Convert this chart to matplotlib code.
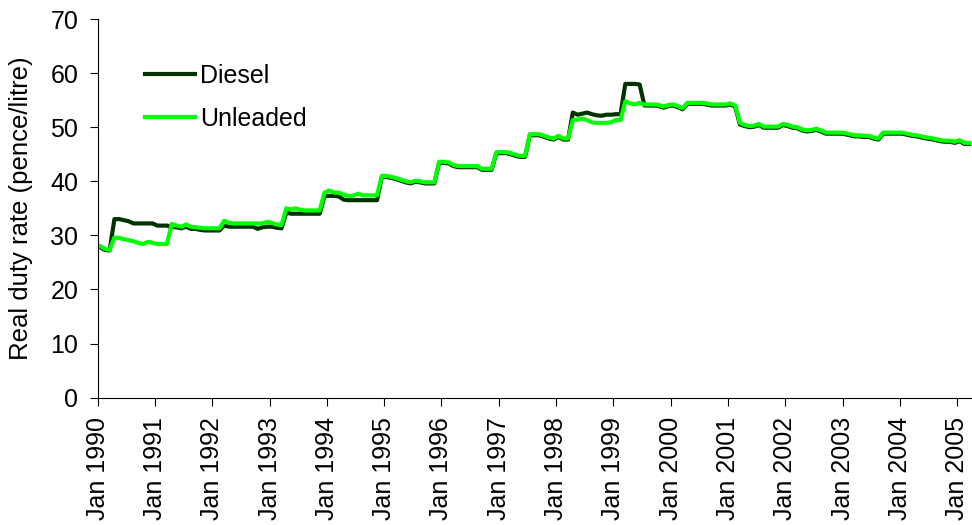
import numpy as np
import matplotlib
matplotlib.use("Agg")
import matplotlib.pyplot as plt

plt.rcParams['font.family'] = ['Liberation Sans', 'DejaVu Sans']

# monthly real duty rates, Jan 1990 .. Mar 2005 (pence/litre)
diesel = [
    27.8, 27.3, 27.2, 33.0, 33.0, 32.8, 32.6, 32.2, 32.2, 32.2, 32.2, 32.2,  # 1990
    31.8, 31.8, 31.8, 31.5, 31.5, 31.3, 31.6, 31.2, 31.2, 31.0, 30.9, 30.9,  # 1991
    30.9, 30.9, 31.8, 31.6, 31.6, 31.6, 31.6, 31.6, 31.6, 31.2, 31.5, 31.6,  # 1992
    31.6, 31.4, 31.3, 34.2, 34.0, 34.0, 34.0, 34.0, 34.0, 34.0, 34.0, 37.3,  # 1993
    37.3, 37.3, 37.2, 36.6, 36.5, 36.5, 36.5, 36.5, 36.5, 36.5, 36.5, 40.8,  # 1994
    40.8, 40.6, 40.4, 40.1, 39.8, 39.6, 39.9, 39.8, 39.6, 39.6, 39.6, 43.4,  # 1995
    43.4, 43.3, 42.8, 42.6, 42.6, 42.6, 42.6, 42.6, 42.1, 42.1, 42.1, 45.2,  # 1996
    45.2, 45.2, 45.0, 44.7, 44.5, 44.5, 48.5, 48.5, 48.5, 48.2, 47.9, 47.7,  # 1997
    48.2, 47.7, 47.7, 52.7, 52.3, 52.5, 52.7, 52.4, 52.2, 52.1, 52.3, 52.3,  # 1998
    52.4, 52.4, 58.0, 58.0, 58.0, 57.9, 54.0, 54.0, 54.0, 53.9, 53.6, 53.9,  # 1999
    54.0, 53.7, 53.3, 54.3, 54.3, 54.3, 54.3, 54.2, 54.0, 54.0, 54.0, 54.0,  # 2000
    54.2, 53.8, 50.5, 50.2, 50.0, 50.1, 50.4, 49.9, 49.9, 49.9, 49.9, 50.4,  # 2001
    50.2, 49.9, 49.8, 49.4, 49.2, 49.3, 49.5, 49.2, 48.8, 48.8, 48.8, 48.8,  # 2002
    48.7, 48.5, 48.3, 48.3, 48.2, 48.2, 47.9, 47.7, 48.8, 48.8, 48.8, 48.8,  # 2003
    48.8, 48.6, 48.4, 48.3, 48.1, 47.9, 47.8, 47.6, 47.4, 47.3, 47.3, 47.1,  # 2004
    47.4, 46.9, 46.9,                                                        # 2005
]

unleaded = [
    28.0, 27.5, 27.3, 29.6, 29.5, 29.3, 29.1, 28.9, 28.6, 28.4, 28.8, 28.6,  # 1990
    28.4, 28.4, 28.4, 32.1, 31.8, 31.6, 32.0, 31.6, 31.5, 31.4, 31.3, 31.3,  # 1991
    31.3, 31.3, 32.7, 32.3, 32.2, 32.2, 32.2, 32.2, 32.2, 32.2, 32.2, 32.5,  # 1992
    32.3, 32.0, 31.9, 35.0, 34.8, 35.0, 34.7, 34.6, 34.6, 34.6, 34.6, 37.9,  # 1993
    38.3, 37.9, 37.9, 37.5, 37.3, 37.3, 37.7, 37.4, 37.4, 37.4, 37.4, 41.0,  # 1994
    41.0, 40.8, 40.6, 40.3, 40.0, 39.8, 40.1, 40.0, 39.8, 39.8, 39.8, 43.6,  # 1995
    43.6, 43.5, 43.0, 42.8, 42.8, 42.8, 42.8, 42.8, 42.3, 42.3, 42.3, 45.4,  # 1996
    45.4, 45.4, 45.2, 44.9, 44.7, 44.7, 48.7, 48.7, 48.7, 48.4, 48.1, 47.9,  # 1997
    48.4, 47.9, 47.9, 51.3, 51.4, 51.6, 51.3, 50.9, 50.8, 50.8, 50.8, 50.9,  # 1998
    51.3, 51.3, 54.8, 54.4, 54.2, 54.5, 54.2, 54.2, 54.2, 54.1, 53.8, 54.1,  # 1999
    54.2, 53.9, 53.5, 54.5, 54.5, 54.5, 54.5, 54.4, 54.2, 54.2, 54.2, 54.2,  # 2000
    54.4, 54.0, 50.8, 50.4, 50.2, 50.3, 50.6, 50.1, 50.1, 50.1, 50.1, 50.6,  # 2001
    50.4, 50.1, 50.0, 49.6, 49.4, 49.5, 49.7, 49.4, 49.0, 49.0, 49.0, 49.0,  # 2002
    48.9, 48.7, 48.5, 48.5, 48.4, 48.4, 48.1, 47.9, 49.0, 49.0, 49.0, 49.0,  # 2003
    49.0, 48.8, 48.6, 48.5, 48.3, 48.1, 48.0, 47.8, 47.6, 47.5, 47.5, 47.3,  # 2004
    47.6, 47.1, 47.1,                                                        # 2005
]

years = list(range(1990, 2006))
tick_labels = [f"Jan {y}" for y in years]

months = np.arange(len(diesel))

fig = plt.figure(figsize=(9.72, 5.25), dpi=100)
ax = fig.add_axes([0.1005, 0.2427, 0.899, 0.7211])

ax.plot(months, diesel, color='#003300', lw=3, label='Diesel', solid_joinstyle='round')
ax.plot(months, unleaded, color='#00ff00', lw=3, label='Unleaded', solid_joinstyle='round')

ax.set_xlim(-0.5, len(diesel) - 0.5)
ax.set_ylim(0, 70)
ax.set_yticks(range(0, 71, 10))
ax.set_xticks([12 * k - 0.5 for k in range(len(years))])
ax.set_xticklabels(tick_labels, rotation=90)

for s in ['top', 'right']:
    ax.spines[s].set_visible(False)
for s in ['left', 'bottom']:
    ax.spines[s].set_linewidth(0.8)
ax.tick_params(axis='both', labelsize=18, length=6, width=0.8, pad=8, direction='out')
ax.set_ylabel('Real duty rate (pence/litre)', fontsize=18.5)
ax.yaxis.set_label_coords(-0.074, 0.5)

ax.legend(loc='upper left', bbox_to_anchor=(0.028, 0.94), frameon=False, fontsize=18,
          handlelength=2.0, handletextpad=0.2, labelspacing=0.76)

fig.savefig('out.png', dpi=100)
